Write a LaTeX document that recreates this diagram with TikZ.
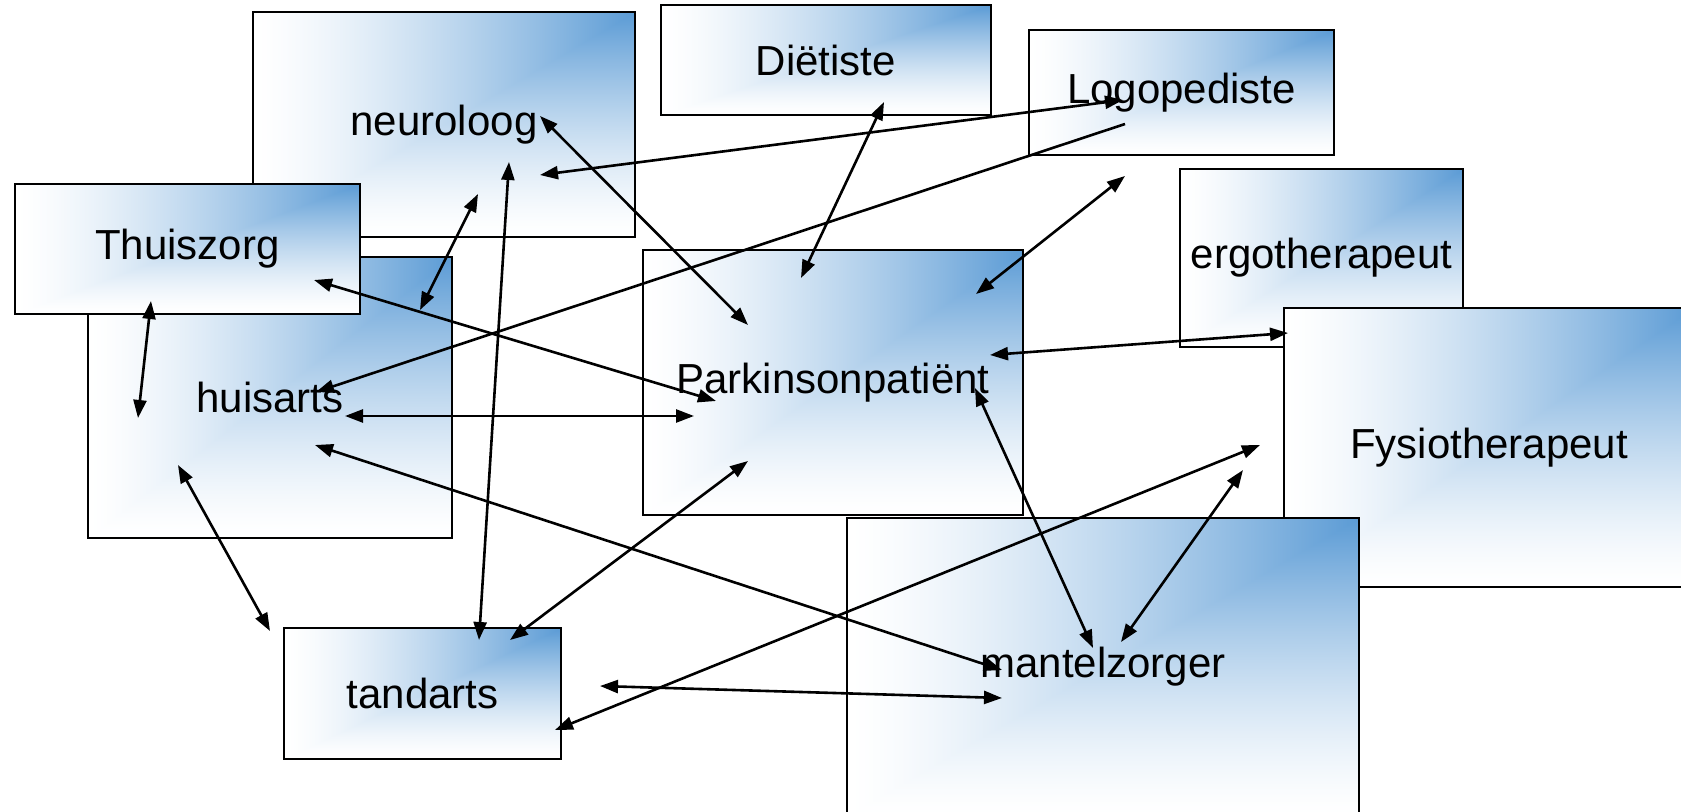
\documentclass[tikz,border=0pt]{standalone}
\usepackage{fontspec}
\setmainfont{Liberation Sans}
\usetikzlibrary{arrows.meta}

% white towards left and bottom, blue in the upper right corner
\pgfdeclarefunctionalshading{cornerfade}{\pgfpointorigin}{\pgfpoint{100bp}{100bp}}{}{
  75 exch sub 50 div
  exch 75 exch sub 50 div
  2 copy lt {exch} if pop
  dup 1 gt {pop 1} if
  dup 0 lt {pop 0} if
  1 exch sub 1.4 exp 1 exch sub
  dup 0.643 mul 0.357 add
  exch dup 0.392 mul 0.608 add
  exch 0.165 mul 0.835 add
}

\begin{document}
\begin{tikzpicture}[>={Triangle[length=9pt,width=6.5pt]},x=0.5pt,y=-0.5pt,
                    line width=1.3pt]
  \tikzstyle{role}=[draw=black,line width=0.9pt,shade,shading=cornerfade,
                    text=black,inner sep=0pt,
                    font=\fontsize{21}{25}\selectfont]

  \useasboundingbox (0,0) rectangle (1681,812);

  \node[role,minimum width=191pt,  minimum height=112.5pt] (neuro)  at (444,124.5)  {neuroloog};
  \node[role,minimum width=165pt,  minimum height=55pt]    (diet)   at (826,60)     {Diëtiste};
  \node[role,minimum width=152.5pt,minimum height=62.5pt]  (logo)   at (1181.5,92.5){Logopediste};
  \node[role,minimum width=182pt,  minimum height=140.5pt] (huis)   at (270,397.5)  {huisarts};
  \node[role,minimum width=172.5pt,minimum height=65pt]    (thuis)  at (187.5,249)  {Thuiszorg};
  \node[role,minimum width=190pt,  minimum height=132.5pt] (park)   at (833,382.5)  {Parkinsonpatiënt};
  \node[role,minimum width=141.5pt,minimum height=89pt]    (ergo)   at (1321.5,258) {ergotherapeut};
  \node[role,minimum width=205pt,  minimum height=139.5pt] (fysio)  at (1489,447.5) {Fysiotherapeut};
  \node[role,minimum width=256pt,  minimum height=149pt]   (mantel) at (1103,667)   {mantelzorger};
  \node[role,minimum width=138.5pt,minimum height=65.5pt]  (tand)   at (422.5,693.5){tandarts};

  \path[<->]
    ([shift={(96,-8.5)}]neuro.center)   edge ([shift={(-85,-57.5)}]park.center)
    ([shift={(34,69.5)}]neuro.center)   edge ([shift={(150,-87.5)}]huis.center)
    ([shift={(65,37.5)}]neuro.center)   edge ([shift={(56.5,-53.5)}]tand.center)
    ([shift={(58,42)}]diet.center)      edge ([shift={(-32,-104.5)}]park.center)
    ([shift={(-58.5,7.5)}]logo.center)  edge ([shift={(96,50.5)}]neuro.center)
    ([shift={(-56.5,83.5)}]logo.center) edge ([shift={(143,-88.5)}]park.center)
    ([shift={(126.5,31)}]thuis.center)  edge ([shift={(-117,18.5)}]park.center)
    ([shift={(-36.5,52)}]thuis.center)  edge ([shift={(-132,20.5)}]huis.center)
    ([shift={(75,18.5)}]huis.center)    edge ([shift={(-139,33.5)}]park.center)
    ([shift={(45,47.5)}]huis.center)    edge ([shift={(-101,3)}]mantel.center)
    ([shift={(-92,67.5)}]huis.center)   edge ([shift={(-152.5,-62.5)}]tand.center)
    ([shift={(-85,78.5)}]park.center)   edge ([shift={(87.5,-53.5)}]tand.center)
    ([shift={(157,-27.5)}]park.center)  edge ([shift={(-33.5,75)}]ergo.center)
    ([shift={(142,5.5)}]park.center)    edge ([shift={(-10,-19)}]mantel.center)
    ([shift={(-229,-2.5)}]fysio.center) edge ([shift={(132.5,36.5)}]tand.center)
    ([shift={(-246,22.5)}]fysio.center) edge ([shift={(18,-25)}]mantel.center)
    ([shift={(177.5,-7.5)}]tand.center) edge ([shift={(-101,31)}]mantel.center);
  \path[->]
    ([shift={(-56.5,31.5)}]logo.center) edge ([shift={(46,-5.5)}]huis.center);
\end{tikzpicture}
\end{document}
